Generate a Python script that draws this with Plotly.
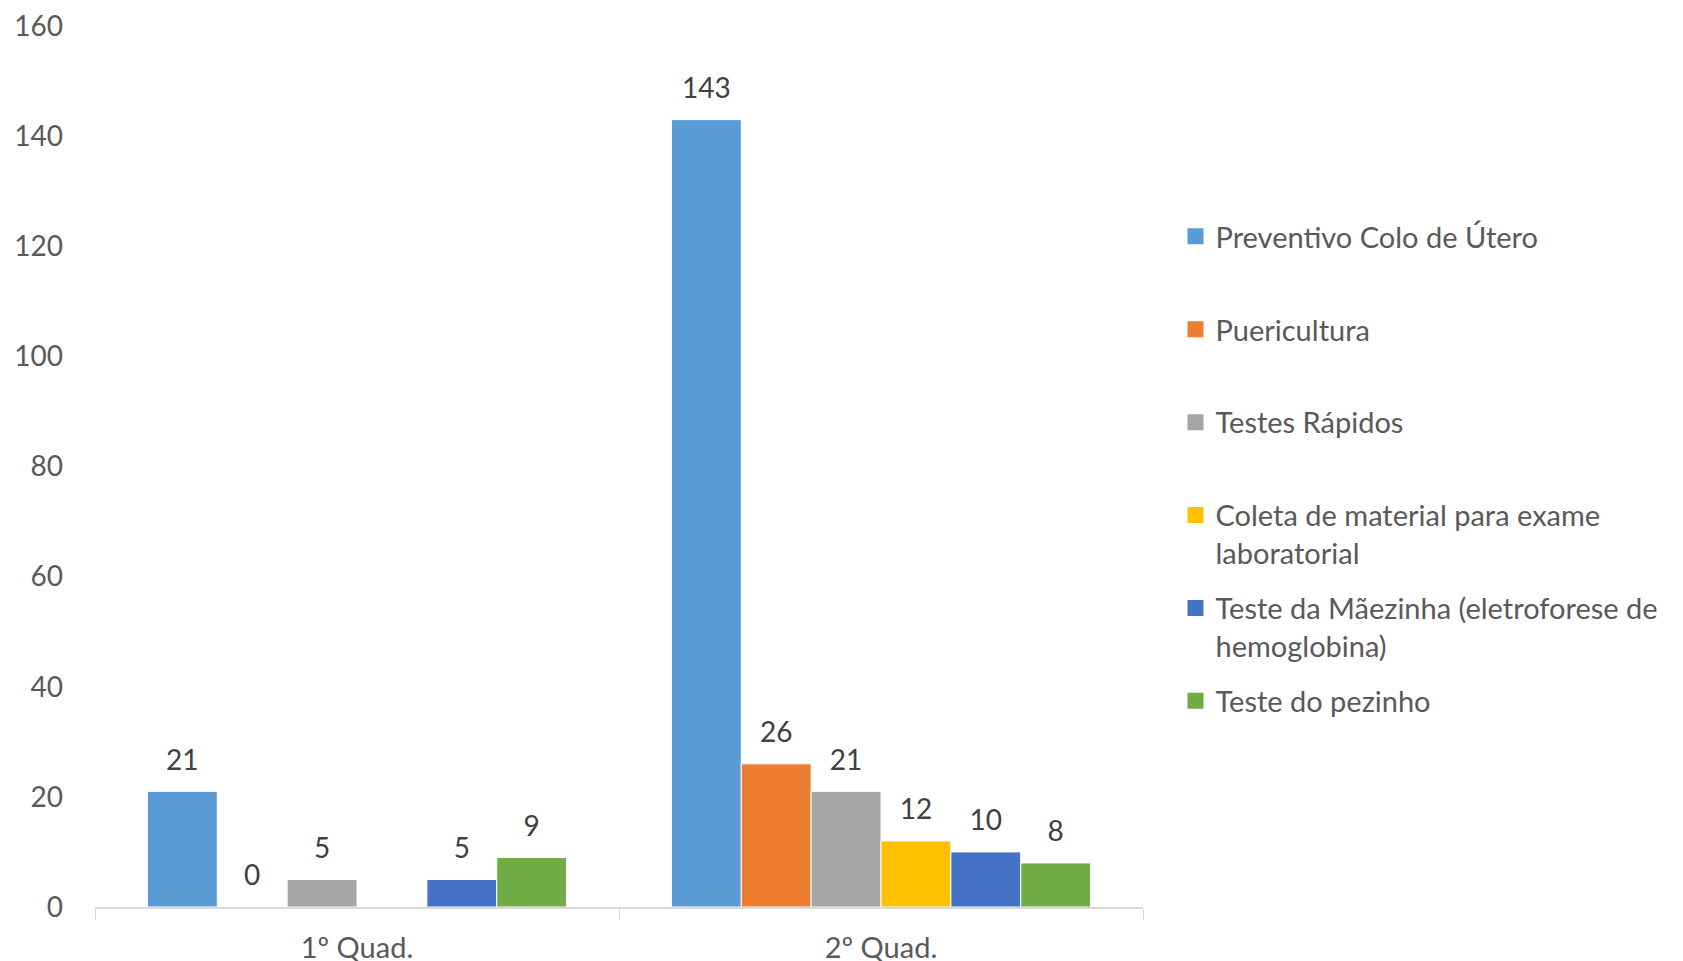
import plotly.graph_objects as go

categories = ["1º Quad.", "2º Quad."]
series_names = [
    "Preventivo Colo de Útero",
    "Puericultura",
    "Testes Rápidos",
    "Coleta de material para exame<br>laboratorial",
    "Teste da Mãezinha (eletroforese de<br>hemoglobina)",
    "Teste do pezinho",
]
series_values = [
    [21, 143],
    [0, 26],
    [5, 21],
    [None, 12],
    [5, 10],
    [9, 8],
]
colors = ["#5B9BD5", "#ED7D31", "#A5A5A5", "#FFC000", "#4472C4", "#70AD47"]
y_ticks = [0, 20, 40, 60, 80, 100, 120, 140, 160]

FONT = "Lato"
GAP = 0.2

fig = go.Figure()
for i, (name, vals) in enumerate(zip(series_names, series_values)):
    grp = f"g{i}"
    fig.add_trace(go.Bar(
        x=categories, y=vals, name=name, offsetgroup=grp, showlegend=False,
        marker=dict(color=colors[i], line=dict(color="white", width=1)),
    ))
    # value labels, aligned with the bars through the same offset group
    fig.add_trace(go.Scatter(
        x=categories, y=vals, mode="markers+text", offsetgroup=grp, showlegend=False,
        marker=dict(size=22, color="rgba(0,0,0,0)"),
        text=[str(v) if v is not None else "" for v in vals],
        textposition="top center", cliponaxis=False,
        textfont=dict(family=FONT, size=28, color="#404040"),
        hoverinfo="skip",
    ))
    # legend entry (square swatch)
    label = name if "<br>" in name else name + "<br>\u00a0"
    fig.add_trace(go.Scatter(
        x=[None], y=[None], mode="markers", offsetgroup=grp, name=label,
        marker=dict(symbol="square", size=16, color=colors[i]),
        legendgroup=grp,
    ))

# page body has an 8px margin, so the figure starts at (8, 8) in the window
fig.update_layout(
    width=1667, height=953,
    barmode="group", bargap=GAP, bargroupgap=0,
    scattermode="group", scattergap=GAP,
    plot_bgcolor="white", paper_bgcolor="white",
    font=dict(family=FONT, size=28, color="#595959"),
    margin=dict(l=87, r=527, t=18, b=54),
    legend=dict(x=1.031, y=0.79, xanchor="left", yanchor="top", valign="top",
                font=dict(family=FONT, size=29, color="#595959"),
                tracegroupgap=14.5, itemwidth=30, traceorder="grouped",
                itemsizing="trace"),
    showlegend=True,
)
fig.update_xaxes(showline=True, linecolor="#D9D9D9", linewidth=2, automargin=False,
                 ticks="outside", tickson="boundaries", ticklen=11, tickcolor="#D9D9D9",
                 ticklabelstandoff=14, showgrid=False, ticklabeloverflow="allow",
                 tickfont=dict(family=FONT, size=29, color="#595959"))
fig.update_yaxes(range=[0, 160], tickvals=y_ticks, showgrid=False, zeroline=False,
                 showline=False, ticklabelstandoff=31, automargin=False,
                 ticklabeloverflow="allow",
                 tickfont=dict(family=FONT, size=28, color="#595959"))

fig.write_html("out.html")
